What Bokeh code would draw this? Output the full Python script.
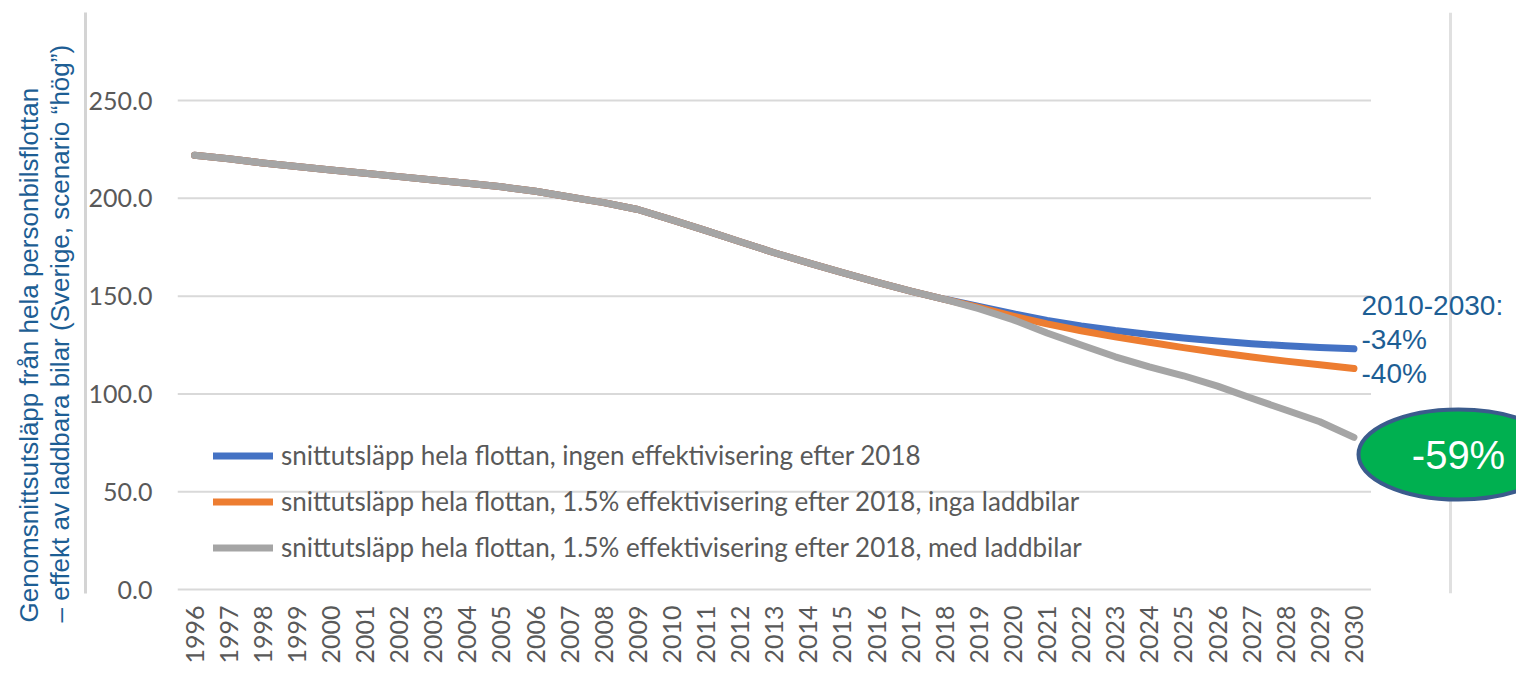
import math
from bokeh.plotting import figure
from bokeh.models import (Range1d, LinearAxis, FixedTicker, NumeralTickFormatter, Legend,
                          LegendItem, Label, Span, Title, ColumnDataSource)
from bokeh.embed import file_html
from bokeh.resources import INLINE

# ---------------- data ----------------
years = list(range(1996, 2031))
history = [222.0, 220.2, 218.1, 216.3, 214.5, 212.8, 211.1, 209.4, 207.7, 205.9,
           203.6, 200.7, 197.8, 194.3, 189.0, 183.5, 177.8, 172.2, 167.0, 162.0,
           157.2, 152.6, 148.4]                     # 1996-2018 (shared)
blue_future = [144.7, 141.0, 137.6, 134.8, 132.4, 130.4, 128.6, 127.1, 125.7, 124.6, 123.8, 123.1]
orange_future = [144.2, 139.8, 135.8, 132.3, 129.2, 126.4, 123.7, 121.2, 118.9, 116.8, 114.9, 113.0]
gray_future = [143.6, 138.0, 131.2, 125.0, 119.0, 113.8, 109.3, 104.0, 97.8, 91.8, 85.8, 77.8]

series_names = [
    "snittutsläpp hela flottan, ingen effektivisering efter 2018",
    "snittutsläpp hela flottan, 1.5% effektivisering efter 2018, inga laddbilar",
    "snittutsläpp hela flottan, 1.5% effektivisering efter 2018, med laddbilar",
]
series_values = [history + blue_future, history + orange_future, history + gray_future]
series_colors = ["#4472c4", "#ed7d31", "#a5a5a5"]

y_ticks = [0, 50, 100, 150, 200, 250]
y_title = "Genomsnittsutsläpp från hela personbilsflottan\n– effekt av laddbara bilar (Sverige, scenario “hög”)"
period_label = "2010-2030:"
change_labels = ["-34%", "-40%", "-59%"]

# ---------------- layout constants (page pixels) ----------------
W, H = 1516, 689
L, T, B = 176, 12, 593
PX_PER_YEAR = 34.1
FRAME_W = W - L
FRAME_H = B - T
X0 = years[0] - 0.5
X1 = X0 + FRAME_W / PX_PER_YEAR
Y0, Y1 = -2, 295
PX_PER_UNIT = FRAME_H / (Y1 - Y0)


def dx(px):
    return X0 + (px - L) / PX_PER_YEAR


def dy(py):
    return Y0 + (B - py) / PX_PER_UNIT


TICK_COLOR = "#595959"
BLUE_TEXT = "#1d5e94"

p = figure(frame_width=FRAME_W, frame_height=FRAME_H,
           min_border_left=L, min_border_right=0, min_border_top=T, min_border_bottom=H - B,
           x_range=Range1d(X0, X1), y_range=Range1d(Y0, Y1),
           output_backend="svg", toolbar_location=None)
p.outline_line_color = None
p.xgrid.visible = False
p.ygrid.visible = False
p.background_fill_color = "white"
p.border_fill_color = "white"

# x axis
xa = p.xaxis[0]
xa.ticker = FixedTicker(ticks=years)
xa.major_label_orientation = math.pi / 2
xa.major_label_text_font = "Lato"
xa.major_label_text_font_size = "25px"
xa.major_label_text_color = TICK_COLOR
xa.axis_line_color = None
xa.major_tick_line_color = None
xa.minor_tick_line_color = None
xa.major_label_standoff = 6

# y axis
ya = p.yaxis[0]
ya.ticker = FixedTicker(ticks=y_ticks)
ya.formatter = NumeralTickFormatter(format="0.0")
ya.major_label_text_font = "Lato"
ya.major_label_text_font_size = "25px"
ya.major_label_text_color = TICK_COLOR
ya.axis_line_color = None
ya.major_tick_line_color = None
ya.minor_tick_line_color = None
ya.major_label_standoff = 19

# outer vertical rule on the left (axis line only)
outer = LinearAxis(ticker=FixedTicker(ticks=[]), axis_line_color="#d4d4d4", axis_line_width=3,
                   major_tick_line_color=None, minor_tick_line_color=None,
                   major_label_text_font_size="0px")
p.add_layout(outer, "left")

# y title
t = Title(text=y_title, align="left", offset=-29, text_font="Liberation Sans",
          text_font_size="26px", text_font_style="normal", text_color=BLUE_TEXT,
          text_line_height=1.05, standoff=21)
p.add_layout(t, "left")

# horizontal gridlines across the category span
p.segment(x0=[years[0] - 0.5] * len(y_ticks), x1=[years[-1] + 0.5] * len(y_ticks),
          y0=y_ticks, y1=y_ticks, line_color="#d9d9d9", line_width=2)

# right vertical rule
p.add_layout(Span(location=dx(1449), dimension="height",
                  line_color="#e0e0e0", line_width=3, level="underlay"))

# series
items = []
for name, vals, col in zip(series_names, series_values, series_colors):
    src = ColumnDataSource(dict(x=years, y=vals))
    r = p.line("x", "y", source=src, line_color=col, line_width=7, line_cap="round", line_join="round")
    items.append(LegendItem(label=name, renderers=[r]))

legend = Legend(items=items, location=(36, 30), orientation="vertical",
                label_text_font="Lato", label_text_font_size="26px", label_text_color=TICK_COLOR,
                glyph_width=60, glyph_height=31, label_height=31, label_standoff=8,
                spacing=14, padding=0, margin=0,
                background_fill_alpha=0, border_line_color=None)
p.add_layout(legend)

# right annotations
for txt, base_py in [(period_label, 305), (change_labels[0], 339), (change_labels[1], 373)]:
    p.add_layout(Label(x=dx(1360), y=dy(base_py), text=txt, text_font="Liberation Sans",
                       text_font_size="28px", text_color=BLUE_TEXT, text_baseline="alphabetic",
                       text_align="left"))

cx, cy = dx(1457), dy(454)
p.ellipse(x=[cx], y=[cy], width=200, height=90, width_units="screen", height_units="screen",
          fill_color="#00b050", line_color="#3b5b8c", line_width=4)
p.add_layout(Label(x=cx, y=cy, text=change_labels[2], text_font="Liberation Sans",
                   text_font_size="40px", text_color="white", text_align="center",
                   text_baseline="middle"))

open("out.html", "w").write(file_html(p, INLINE))
